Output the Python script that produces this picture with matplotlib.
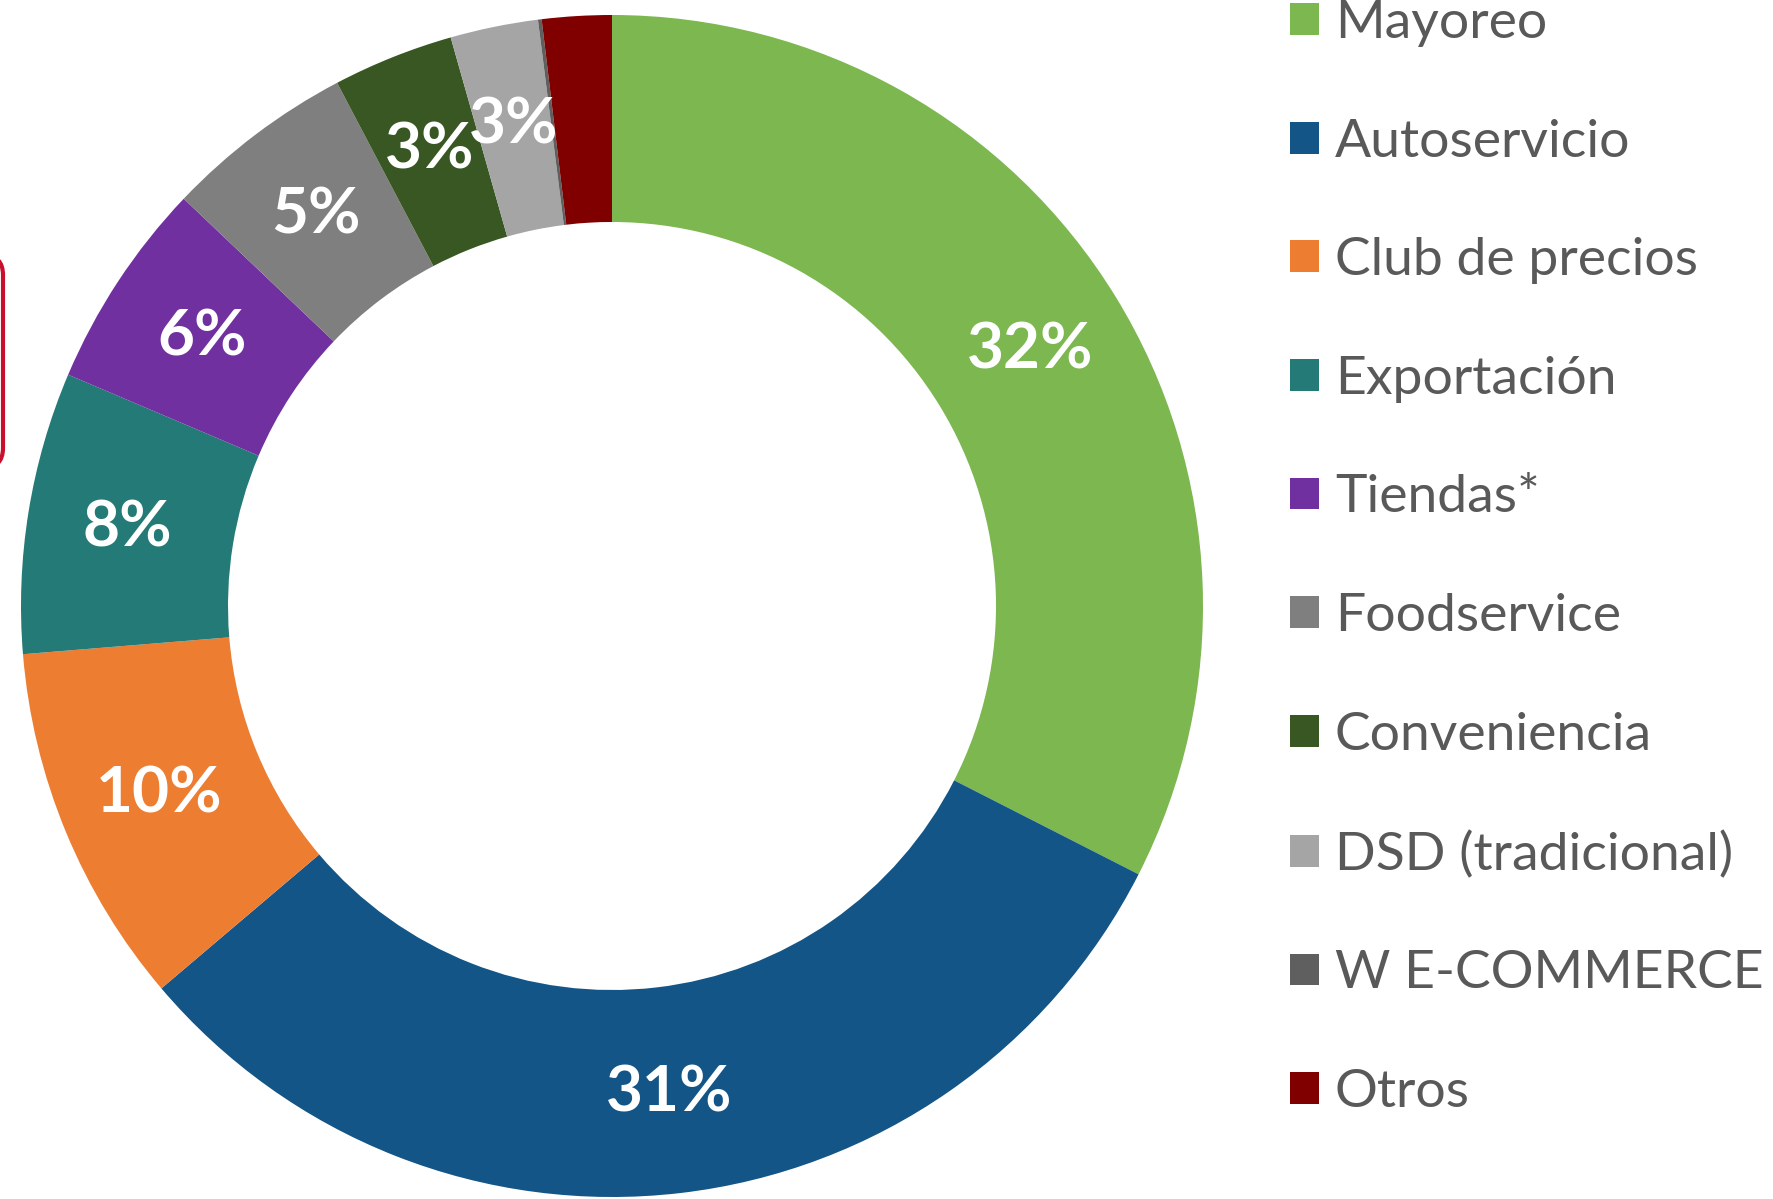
import matplotlib
matplotlib.use('Agg')
import matplotlib.pyplot as plt
from matplotlib.patches import FancyBboxPatch

# Sales share by channel (%)
categories = ["Mayoreo", "Autoservicio", "Club de precios", "Exportación",
              "Tiendas*", "Foodservice", "Conveniencia", "DSD (tradicional)",
              "W E-COMMERCE", "Otros"]
shares = [32.5, 31.3, 9.9, 7.7, 5.7, 5.2, 3.3, 2.4, 0.1, 1.9]
pct_labels = ["32%", "31%", "10%", "8%", "6%", "5%", "3%", "3%", "", ""]
colors = ["#7cb74f", "#135586", "#ed7d31", "#237a76", "#7030a0",
          "#7f7f7f", "#385723", "#a5a5a5", "#5f5f5f", "#800000"]

fig = plt.figure(figsize=(17.74, 11.99), dpi=100)
ax = fig.add_axes([0, 0, 1, 1])

labels_iter = iter(pct_labels)
wedges, _, autotexts = ax.pie(
    shares, colors=colors, startangle=90, counterclock=False,
    radius=591, center=(612, 593),
    wedgeprops=dict(width=207, edgecolor='none'),
    autopct=lambda p: next(labels_iter), pctdistance=0.83,
    textprops=dict(color='white', fontsize=46, fontweight='bold', family='Lato'))

ax.set_xlim(0, 1774)
ax.set_ylim(0, 1199)
ax.axis('off')

leg = ax.legend(wedges, categories, loc='center left',
                bbox_to_anchor=(1290, 641), bbox_transform=ax.transData,
                frameon=False, borderpad=0, borderaxespad=0,
                handlelength=0.54, handleheight=0.54, handletextpad=0.3,
                labelspacing=1.34, prop=dict(family='Lato', size=38.5))
for t in leg.get_texts():
    t.set_color('#595959')

# edge of a red rounded box that sits off the left side
ax.add_patch(FancyBboxPatch((-300, 731), 303, 213,
                            boxstyle='round,pad=0,rounding_size=20',
                            fill=False, edgecolor='#c8102e', linewidth=3,
                            clip_on=False))

fig.savefig('out.png', dpi=100)
